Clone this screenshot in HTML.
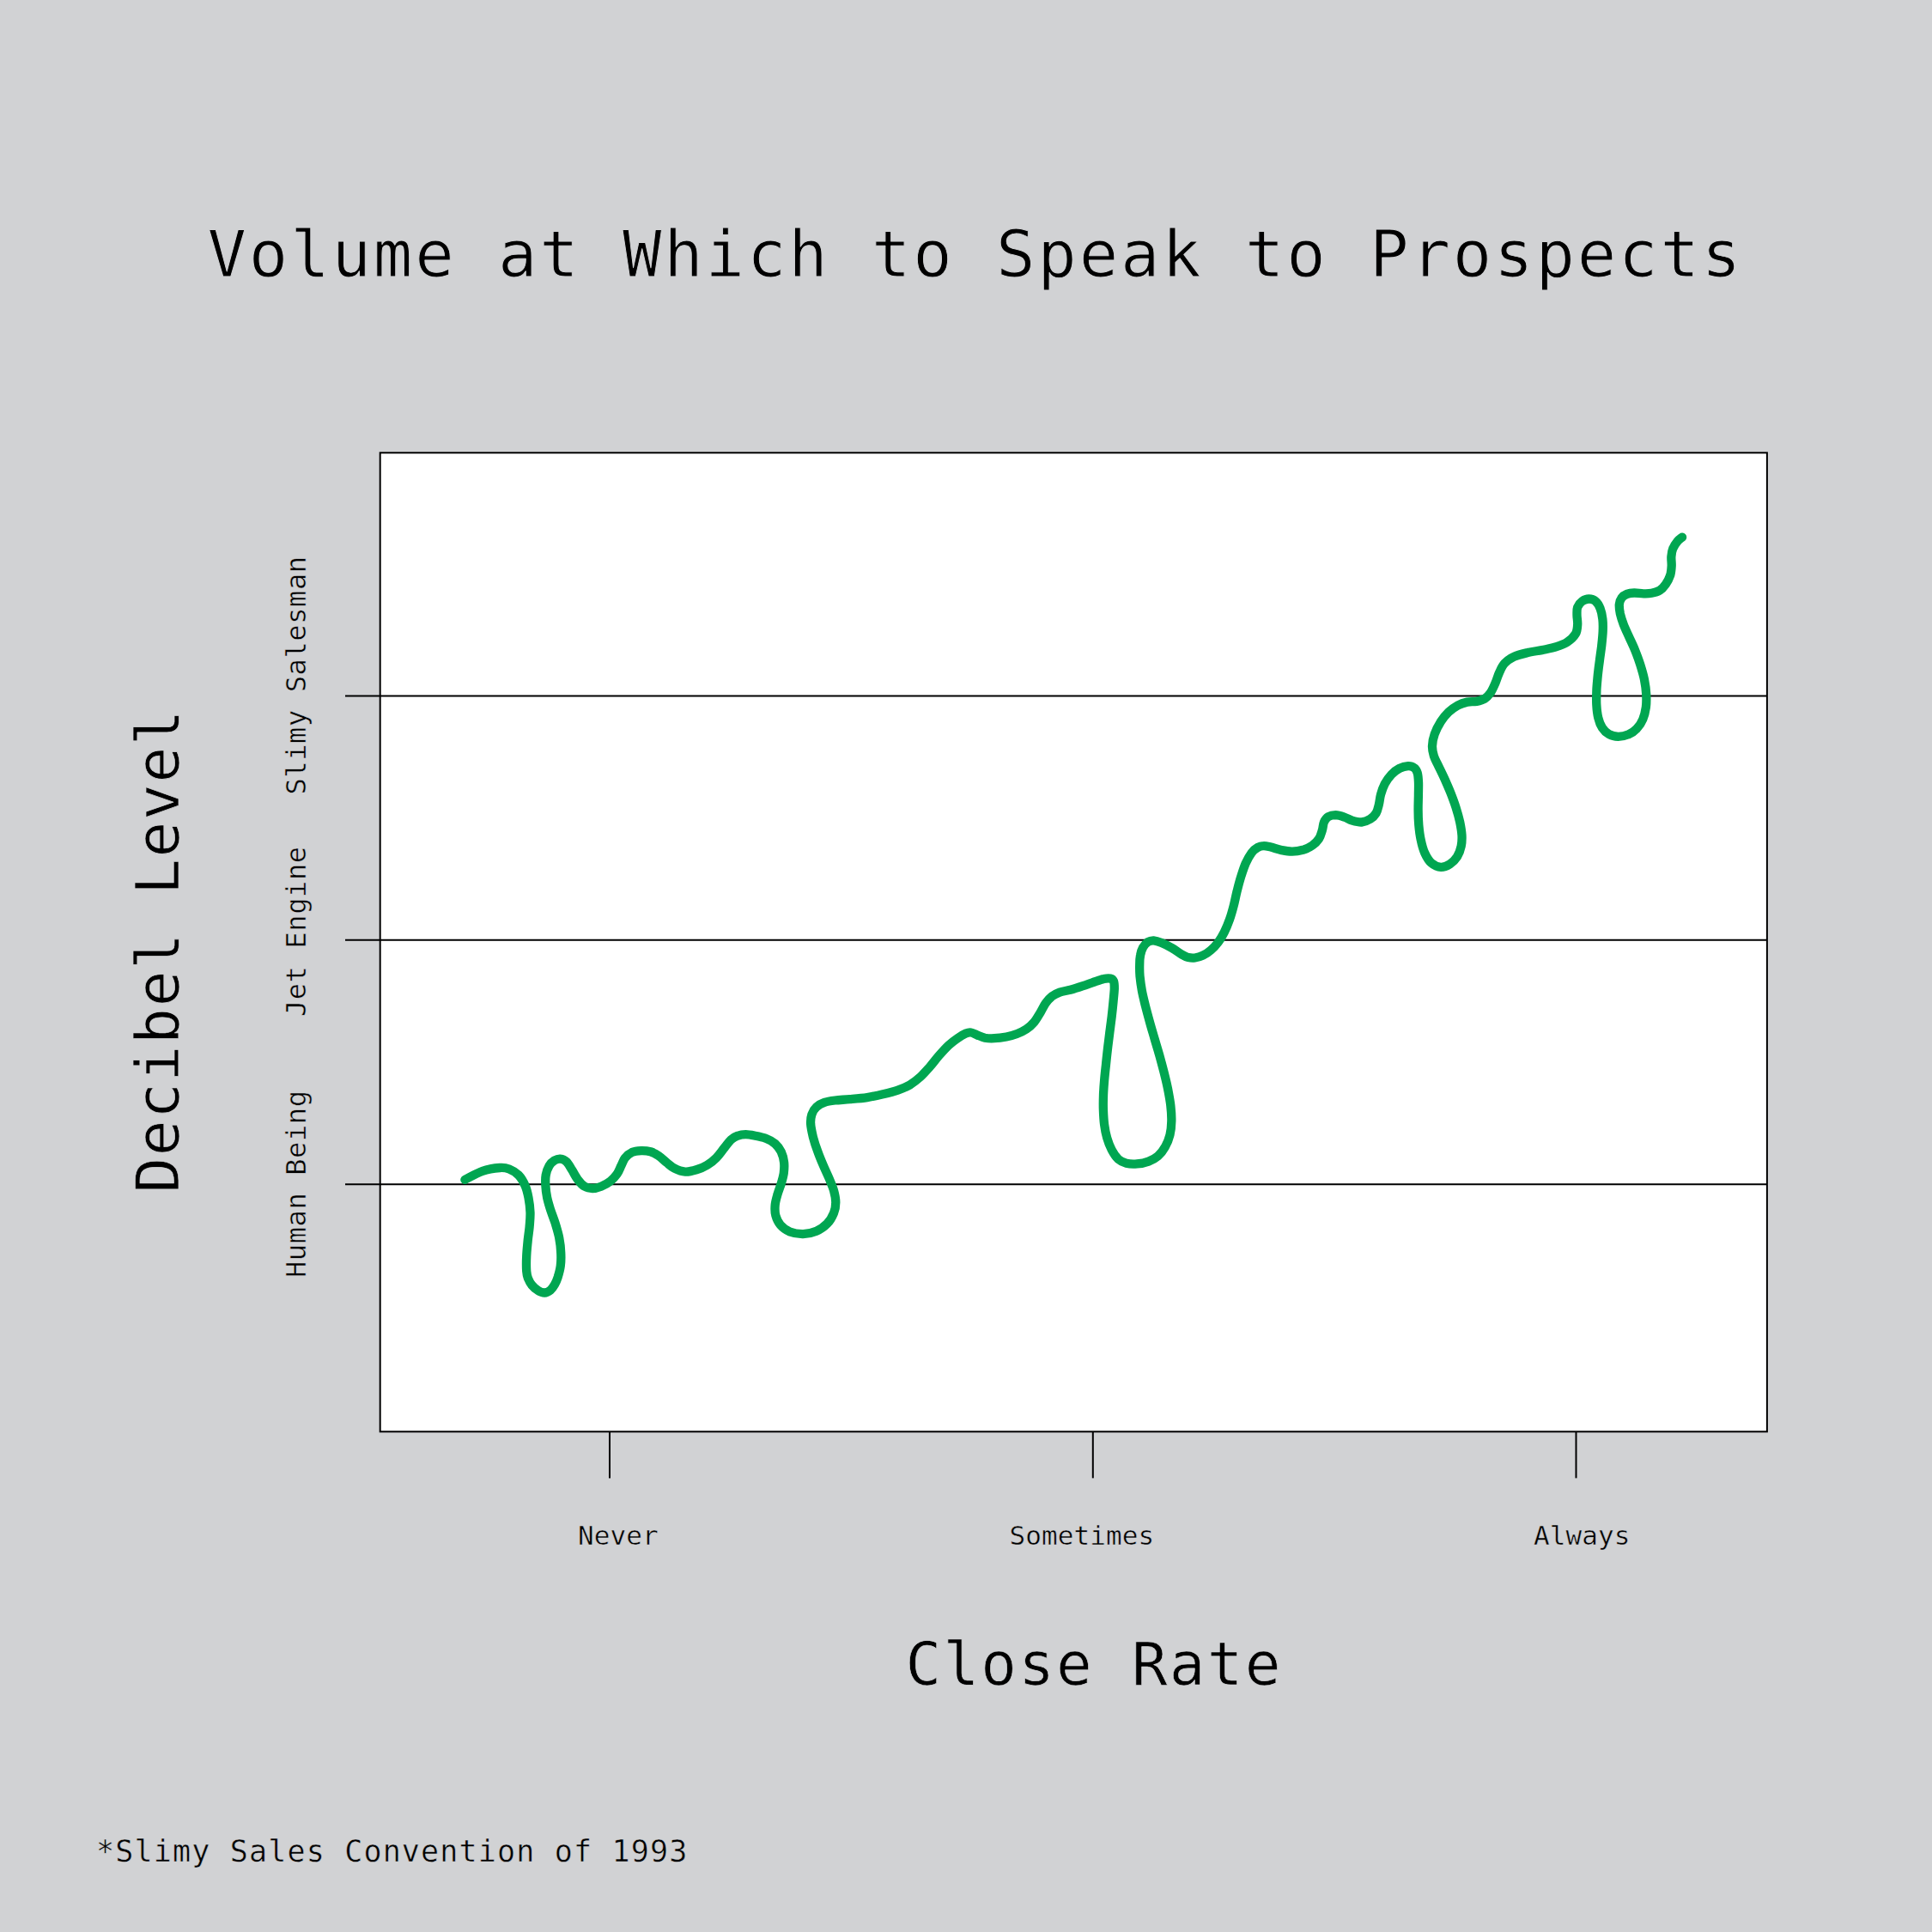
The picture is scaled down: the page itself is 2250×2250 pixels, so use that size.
<!DOCTYPE html>
<html lang="en">
<head>
<meta charset="utf-8">
<title>Volume at Which to Speak to Prospects</title>
<style>
html,body{margin:0;padding:0;background:#d1d2d4;}
body{width:2250px;height:2250px;overflow:hidden;position:relative;}
svg{position:absolute;left:0;top:0;display:block;}
text{font-family:"DejaVu Sans Mono", "Liberation Mono", monospace;fill:#000;white-space:pre;stroke:#d1d2d4;paint-order:fill stroke;stroke-linejoin:round;}
.title{font-size:75.6px;letter-spacing:2.83px;stroke-width:1px;}
.axis{font-size:69.2px;letter-spacing:2.25px;stroke-width:0.7px;}
.axisy{font-size:69.2px;letter-spacing:1.8px;stroke-width:0.7px;}
.xl{font-size:31px;letter-spacing:0.1px;stroke-width:0.5px;}
.yl{font-size:32px;letter-spacing:0.6px;stroke-width:0.5px;}
.foot{font-size:35px;letter-spacing:1.17px;stroke-width:0.5px;}
</style>
</head>
<body>
<svg width="2250" height="2250" viewBox="0 0 2250 2250">
<rect x="0" y="0" width="2250" height="2250" fill="#d1d2d4"/>
<rect x="442.7" y="527.3" width="1615.2" height="1140" fill="#ffffff" stroke="#000" stroke-width="2"/>
<g stroke="#000" stroke-width="2" fill="none">
<line x1="402" y1="810.4" x2="2058" y2="810.4"/>
<line x1="402" y1="1094.8" x2="2058" y2="1094.8"/>
<line x1="402" y1="1379.2" x2="2058" y2="1379.2"/>
<line x1="710" y1="1667" x2="710" y2="1721.4"/>
<line x1="1272.8" y1="1667" x2="1272.8" y2="1721.4"/>
<line x1="1835.5" y1="1667" x2="1835.5" y2="1721.4"/>
</g>
<path d="M541.4 1373.9C544.8 1372.3 555.1 1366.2 561.9 1363.9C568.7 1361.5 576.9 1360.4 582.1 1360.0C587.3 1359.6 589.4 1360.1 593.0 1361.5C596.6 1362.9 600.7 1365.3 603.9 1368.5C607.0 1371.7 609.7 1376.5 611.6 1380.9C613.6 1385.3 614.5 1389.7 615.5 1394.9C616.5 1400.1 617.3 1406.3 617.5 1412.0C617.7 1417.7 617.0 1423.6 616.6 1429.1C616.1 1434.5 615.3 1438.9 614.7 1444.6C614.2 1450.3 613.4 1457.3 613.2 1463.2C612.9 1469.2 612.9 1476.0 613.2 1480.3C613.5 1484.6 614.0 1486.1 615.0 1488.9C616.1 1491.6 617.5 1494.3 619.4 1496.6C621.3 1498.9 623.9 1501.4 626.4 1502.8C628.8 1504.3 631.7 1505.5 634.1 1505.5C636.6 1505.4 639.1 1504.0 641.1 1502.4C643.1 1500.8 644.7 1498.3 646.1 1495.8C647.5 1493.3 648.5 1490.9 649.7 1487.3C650.8 1483.7 652.2 1478.9 652.8 1474.1C653.4 1469.3 653.5 1464.0 653.2 1458.6C653.0 1453.1 652.3 1447.2 651.2 1441.5C650.1 1435.8 648.2 1429.8 646.6 1424.4C644.9 1419.0 642.7 1413.8 641.1 1408.9C639.6 1404.0 638.2 1399.6 637.2 1394.9C636.3 1390.2 635.6 1385.3 635.4 1380.9C635.1 1376.5 635.0 1372.4 635.7 1368.5C636.4 1364.6 637.9 1360.5 639.6 1357.6C641.2 1354.8 643.6 1352.8 645.8 1351.4C648.0 1350.1 650.4 1349.3 652.8 1349.6C655.1 1349.8 657.6 1350.9 659.8 1353.0C662.0 1355.1 663.8 1358.8 666.0 1362.3C668.2 1365.8 670.5 1370.7 673.0 1373.9C675.4 1377.2 677.9 1380.0 680.7 1381.7C683.6 1383.4 686.8 1384.0 690.0 1384.0C693.3 1384.0 696.6 1383.1 700.1 1381.7C703.6 1380.3 707.9 1378.0 711.0 1375.5C714.1 1373.0 716.7 1369.9 718.8 1367.0C720.8 1364.0 721.9 1360.7 723.4 1357.6C725.0 1354.5 726.0 1350.9 728.1 1348.3C730.1 1345.7 732.7 1343.5 735.8 1342.1C738.9 1340.8 743.1 1340.4 746.7 1340.2C750.3 1340.1 754.2 1340.4 757.6 1341.3C760.9 1342.3 763.8 1343.9 766.9 1346.0C770.0 1348.1 773.1 1351.3 776.2 1353.8C779.3 1356.2 781.9 1358.9 785.5 1360.7C789.2 1362.6 793.7 1364.4 798.0 1364.6C802.2 1364.9 806.8 1363.6 811.1 1362.3C815.3 1361.0 819.6 1359.2 823.5 1356.8C827.4 1354.5 831.0 1351.7 834.3 1348.3C837.7 1344.9 840.8 1340.1 843.7 1336.6C846.5 1333.2 848.8 1329.7 851.4 1327.3C854.0 1325.0 856.3 1323.7 859.2 1322.7C862.0 1321.6 865.1 1321.1 868.5 1321.1C871.9 1321.1 875.5 1321.9 879.4 1322.7C883.3 1323.4 887.9 1324.2 891.8 1325.8C895.7 1327.3 899.7 1329.4 902.7 1332.0C905.6 1334.6 907.9 1337.7 909.7 1341.3C911.4 1344.9 912.6 1349.6 913.1 1353.7C913.6 1357.9 913.3 1362.0 912.8 1366.1C912.2 1370.3 910.9 1374.4 909.7 1378.6C908.4 1382.7 906.6 1386.9 905.5 1391.0C904.3 1395.1 903.0 1399.3 902.7 1403.4C902.3 1407.6 902.4 1412.0 903.4 1415.8C904.5 1419.7 906.2 1423.6 908.9 1426.7C911.6 1429.8 915.4 1432.7 919.8 1434.5C924.2 1436.2 930.1 1437.2 935.3 1437.1C940.5 1437.0 946.1 1435.7 950.8 1433.7C955.5 1431.7 959.9 1428.6 963.2 1425.2C966.6 1421.7 969.3 1416.9 971.0 1412.7C972.7 1408.6 973.3 1404.7 973.3 1400.3C973.3 1395.9 972.3 1391.0 971.0 1386.3C969.7 1381.7 967.6 1377.3 965.6 1372.4C963.5 1367.4 960.8 1362.0 958.6 1356.8C956.4 1351.7 954.3 1346.7 952.4 1341.3C950.4 1335.9 948.3 1329.7 946.9 1324.2C945.6 1318.8 944.4 1313.1 944.1 1308.7C943.9 1304.3 944.3 1301.1 945.4 1297.8C946.5 1294.6 948.3 1291.6 950.8 1289.3C953.3 1287.0 956.5 1285.1 960.1 1283.9C963.7 1282.6 967.6 1282.1 972.5 1281.5C977.5 1280.9 983.5 1280.7 989.7 1280.1C995.9 1279.6 1003.4 1279.1 1009.9 1278.1C1016.3 1277.1 1022.6 1275.6 1028.5 1274.2C1034.5 1272.8 1040.4 1271.4 1045.6 1269.6C1050.8 1267.8 1055.2 1265.9 1059.6 1263.4C1064.0 1260.8 1068.1 1257.5 1072.0 1254.0C1075.9 1250.5 1079.2 1246.5 1082.9 1242.4C1086.5 1238.3 1090.1 1233.3 1093.7 1229.2C1097.3 1225.1 1101.0 1220.9 1104.6 1217.5C1108.2 1214.2 1112.1 1211.3 1115.5 1209.0C1118.8 1206.7 1122.2 1204.7 1124.8 1203.6C1127.3 1202.5 1128.7 1202.2 1130.8 1202.5C1133.0 1202.8 1135.1 1204.2 1137.8 1205.3C1140.5 1206.3 1143.8 1208.0 1147.1 1208.7C1150.5 1209.3 1153.9 1209.4 1158.0 1209.2C1162.2 1209.0 1167.6 1208.3 1172.0 1207.5C1176.4 1206.6 1180.5 1205.5 1184.4 1204.0C1188.3 1202.6 1191.9 1200.9 1195.3 1198.6C1198.6 1196.3 1201.9 1193.3 1204.6 1190.1C1207.3 1186.8 1209.4 1182.8 1211.6 1179.2C1213.8 1175.6 1215.6 1171.4 1217.8 1168.3C1220.0 1165.2 1222.1 1162.7 1224.8 1160.6C1227.5 1158.4 1230.5 1156.9 1234.1 1155.6C1237.7 1154.3 1242.1 1154.0 1246.5 1152.8C1250.9 1151.6 1255.8 1150.0 1260.5 1148.4C1265.2 1146.9 1270.3 1144.9 1274.5 1143.5C1278.6 1142.1 1282.2 1140.7 1285.3 1140.1C1288.4 1139.4 1291.2 1139.2 1293.1 1139.6C1295.0 1140.0 1296.2 1140.8 1297.0 1142.7C1297.8 1144.6 1297.8 1147.2 1297.8 1151.2C1297.7 1155.3 1297.0 1161.3 1296.5 1166.8C1296.0 1172.2 1295.4 1177.9 1294.7 1183.9C1294.0 1189.8 1293.1 1196.3 1292.3 1202.5C1291.6 1208.7 1290.7 1214.9 1290.0 1221.1C1289.3 1227.3 1288.6 1233.5 1288.0 1239.8C1287.3 1246.0 1286.6 1252.4 1286.1 1258.4C1285.6 1264.3 1285.2 1269.8 1285.0 1275.5C1284.8 1281.2 1284.7 1286.9 1284.9 1292.5C1285.1 1298.2 1285.4 1304.2 1286.1 1309.6C1286.8 1315.1 1287.8 1320.2 1289.2 1325.2C1290.6 1330.1 1292.5 1335.0 1294.7 1339.1C1296.9 1343.3 1299.6 1347.4 1302.4 1350.0C1305.3 1352.6 1308.1 1353.8 1311.7 1354.7C1315.4 1355.6 1319.8 1355.8 1324.2 1355.4C1328.5 1355.1 1333.6 1354.1 1337.6 1352.6C1341.7 1351.1 1345.3 1349.2 1348.5 1346.4C1351.7 1343.6 1354.7 1339.7 1357.0 1335.5C1359.4 1331.4 1361.3 1326.5 1362.5 1321.6C1363.7 1316.6 1364.2 1311.7 1364.3 1306.0C1364.5 1300.3 1364.0 1293.6 1363.3 1287.4C1362.6 1281.2 1361.4 1275.2 1360.2 1268.8C1358.9 1262.3 1357.2 1255.3 1355.5 1248.6C1353.8 1241.8 1351.9 1234.9 1350.1 1228.4C1348.3 1221.9 1346.4 1216.0 1344.6 1209.8C1342.8 1203.5 1340.9 1197.3 1339.2 1191.1C1337.5 1184.9 1335.8 1178.7 1334.2 1172.5C1332.7 1166.3 1331.0 1159.8 1329.9 1153.9C1328.8 1147.9 1328.0 1141.8 1327.5 1136.8C1327.1 1131.7 1327.1 1127.6 1327.2 1123.6C1327.2 1119.6 1327.3 1116.1 1328.0 1112.7C1328.6 1109.4 1329.6 1106.0 1331.1 1103.4C1332.5 1100.8 1334.4 1098.6 1336.5 1097.2C1338.6 1095.9 1340.8 1095.2 1343.5 1095.3C1346.2 1095.5 1349.2 1096.5 1352.8 1098.0C1356.4 1099.5 1361.3 1101.9 1365.2 1104.2C1369.1 1106.4 1373.0 1109.7 1376.1 1111.5C1379.2 1113.3 1381.3 1114.4 1383.9 1115.1C1386.4 1115.7 1388.8 1115.9 1391.6 1115.5C1394.5 1115.1 1397.8 1114.2 1400.9 1112.7C1404.0 1111.2 1407.3 1109.1 1410.2 1106.5C1413.2 1103.9 1416.2 1100.7 1418.8 1097.2C1421.4 1093.7 1423.6 1090.0 1425.8 1085.6C1428.0 1081.2 1430.2 1075.9 1432.0 1070.8C1433.8 1065.8 1435.2 1060.7 1436.6 1055.3C1438.1 1049.8 1439.1 1043.9 1440.5 1038.2C1442.0 1032.5 1443.5 1026.6 1445.2 1021.1C1446.9 1015.7 1448.6 1010.2 1450.6 1005.6C1452.7 1000.9 1455.3 996.3 1457.6 993.2C1459.9 990.1 1462.3 988.3 1464.6 987.0C1466.9 985.6 1469.0 985.1 1471.6 985.1C1474.2 985.0 1476.6 985.8 1480.1 986.6C1483.6 987.5 1488.4 989.2 1492.5 990.1C1496.7 990.9 1500.8 991.7 1505.0 991.6C1509.1 991.6 1513.5 990.9 1517.4 989.8C1521.3 988.6 1525.2 986.8 1528.3 984.6C1531.4 982.5 1534.1 979.8 1536.0 976.9C1538.0 973.9 1538.9 970.0 1539.9 966.8C1540.9 963.5 1540.8 960.0 1541.9 957.5C1543.1 954.9 1544.6 952.6 1546.9 951.2C1549.1 949.9 1552.3 949.2 1555.4 949.2C1558.5 949.3 1562.3 950.5 1565.5 951.6C1568.8 952.6 1571.5 954.6 1574.8 955.6C1578.2 956.6 1582.2 957.7 1585.7 957.5C1589.2 957.2 1592.8 955.7 1595.7 953.9C1598.5 952.2 1601.0 949.7 1602.6 947.0C1604.3 944.2 1604.8 941.3 1605.7 937.6C1606.7 934.0 1606.9 929.4 1608.1 925.2C1609.2 921.1 1610.7 916.7 1612.7 912.8C1614.8 908.9 1617.7 904.9 1620.5 901.9C1623.3 898.9 1626.6 896.6 1629.8 894.9C1633.0 893.3 1637.1 892.3 1639.9 892.1C1642.8 892.0 1645.1 892.8 1646.9 894.2C1648.7 895.5 1649.9 897.5 1650.8 900.4C1651.6 903.2 1651.8 906.8 1652.0 911.2C1652.2 915.6 1651.9 921.3 1651.9 926.8C1651.8 932.2 1651.5 938.2 1651.6 943.9C1651.6 949.5 1651.8 955.2 1652.3 960.9C1652.8 966.6 1653.5 972.6 1654.7 978.0C1655.8 983.4 1657.2 989.0 1659.3 993.5C1661.4 998.1 1664.0 1002.5 1667.1 1005.2C1670.2 1007.9 1674.4 1009.7 1678.0 1009.8C1681.5 1010.0 1685.3 1008.3 1688.5 1006.3C1691.7 1004.3 1694.8 1001.3 1697.0 997.8C1699.2 994.3 1700.8 989.5 1701.7 985.3C1702.6 981.2 1702.7 977.6 1702.5 972.9C1702.2 968.3 1701.3 962.8 1700.2 957.4C1699.0 952.0 1697.3 946.0 1695.5 940.3C1693.7 934.6 1691.5 928.8 1689.3 923.2C1687.1 917.7 1684.6 912.1 1682.3 906.9C1680.0 901.7 1677.4 896.6 1675.3 892.2C1673.2 887.8 1671.1 884.4 1669.9 880.5C1668.7 876.6 1667.9 873.2 1668.0 868.9C1668.1 864.6 1669.0 859.6 1670.7 854.9C1672.3 850.2 1674.9 845.2 1677.6 840.9C1680.4 836.7 1683.6 832.5 1687.0 829.3C1690.3 826.1 1694.2 823.5 1697.8 821.5C1701.4 819.6 1705.1 818.4 1708.7 817.6C1712.3 816.9 1716.2 817.5 1719.6 816.9C1722.9 816.2 1726.2 815.4 1728.9 813.8C1731.6 812.1 1733.8 809.7 1735.9 806.8C1737.9 803.8 1739.6 799.8 1741.3 795.9C1743.0 792.0 1744.2 787.4 1746.0 783.5C1747.8 779.6 1749.3 775.7 1752.2 772.6C1755.0 769.5 1758.6 766.9 1763.0 764.8C1767.4 762.8 1773.1 761.5 1778.6 760.2C1784.0 758.9 1790.0 758.2 1795.7 757.1C1801.3 755.9 1807.8 754.8 1812.7 753.2C1817.7 751.6 1821.5 750.3 1825.2 747.8C1828.9 745.3 1832.9 741.6 1834.9 738.2C1836.9 734.8 1837.0 731.0 1837.2 727.3C1837.5 723.7 1836.5 719.8 1836.5 716.5C1836.5 713.1 1836.2 709.9 1837.2 707.1C1838.3 704.4 1840.5 701.8 1842.7 700.2C1844.9 698.6 1847.8 697.5 1850.4 697.5C1853.0 697.5 1856.0 698.3 1858.2 700.2C1860.4 702.0 1862.3 705.2 1863.6 708.7C1865.0 712.2 1865.9 716.7 1866.4 721.1C1866.9 725.5 1866.9 729.9 1866.7 735.1C1866.5 740.3 1865.8 746.5 1865.2 752.2C1864.5 757.9 1863.6 763.6 1862.9 769.3C1862.1 774.9 1861.4 780.6 1860.8 786.3C1860.3 792.0 1859.7 797.7 1859.4 803.4C1859.2 809.1 1859.0 815.1 1859.3 820.5C1859.6 825.9 1860.2 831.5 1861.3 836.0C1862.4 840.6 1863.9 844.5 1866.0 847.7C1868.0 850.8 1870.6 853.3 1873.7 855.0C1876.8 856.7 1880.8 857.7 1884.6 857.8C1888.3 857.8 1892.6 857.0 1896.2 855.4C1899.9 853.9 1903.5 851.4 1906.3 848.4C1909.2 845.5 1911.6 841.7 1913.3 837.6C1915.1 833.4 1916.2 828.5 1916.9 823.6C1917.5 818.7 1917.5 813.5 1917.2 808.1C1916.9 802.6 1916.0 796.7 1914.9 791.0C1913.7 785.3 1912.0 779.6 1910.2 773.9C1908.4 768.2 1906.2 762.3 1904.0 756.8C1901.8 751.4 1899.2 746.2 1897.0 741.3C1894.8 736.4 1892.5 731.7 1890.8 727.3C1889.1 722.9 1887.8 718.8 1886.9 714.9C1886.1 711.0 1885.6 707.1 1885.8 704.0C1886.1 700.9 1887.0 698.3 1888.5 696.3C1890.0 694.3 1892.2 692.9 1894.7 691.9C1897.1 691.0 1900.0 690.6 1903.2 690.5C1906.5 690.4 1910.7 691.3 1914.1 691.3C1917.5 691.4 1920.3 691.4 1923.4 690.8C1926.5 690.2 1930.0 689.4 1932.7 687.7C1935.5 686.1 1937.7 683.7 1939.7 680.7C1941.8 677.8 1944.0 673.5 1945.2 669.9C1946.3 666.3 1946.5 662.6 1946.7 659.0C1946.9 655.4 1946.1 651.5 1946.4 648.1C1946.7 644.8 1947.0 641.8 1948.3 638.8C1949.5 635.8 1951.9 632.5 1953.7 630.3C1955.5 628.1 1958.2 626.4 1959.1 625.6" fill="none" stroke="#00a651" stroke-width="10.3" stroke-linecap="round" stroke-linejoin="round"/>
<text class="title" x="241.5" y="322">Volume at Which to Speak to Prospects</text>
<text class="axis" x="1054.5" y="1962.2">Close Rate</text>
<text class="axisy" transform="translate(207.6 1389.6) rotate(-90)" x="0" y="0">Decibel Level</text>
<text class="yl" transform="translate(355.5 1488) rotate(-90)" x="0" y="0">Human Being</text>
<text class="yl" transform="translate(355.5 1184) rotate(-90)" x="0" y="0">Jet Engine</text>
<text class="yl" transform="translate(355.5 925.5) rotate(-90)" x="0" y="0">Slimy Salesman</text>
<text class="xl" x="673" y="1799.2">Never</text>
<text class="xl" x="1175.5" y="1799.2">Sometimes</text>
<text class="xl" x="1786" y="1799.2">Always</text>
<text class="foot" x="112" y="2167.7">*Slimy Sales Convention of 1993</text>
</svg>
</body>
</html>
